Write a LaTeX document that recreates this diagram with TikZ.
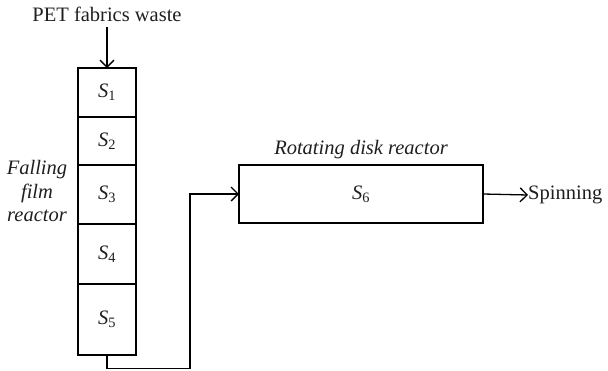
\documentclass[tikz,border=0pt]{standalone}
\usepackage{fontspec}
\setmainfont{Liberation Serif}
\usetikzlibrary{arrows.meta}
\newcommand\Sx[1]{\textit{S}\textsubscript{#1}}
\begin{document}
\begin{tikzpicture}[x=1pt,y=-1pt,
  every node/.style={font=\fontsize{20.5}{24}\selectfont, text=black!88},
  cell/.style={draw, line width=1.3pt, minimum width=58pt, inner sep=0pt, outer sep=0pt},
  arr/.style={draw, line width=1.3pt, -{Straight Barb[length=7pt,width=14pt,line width=1.3pt]}},
  lbl/.style={inner sep=0pt}]
\useasboundingbox (0,0) rectangle (608,370);
\node[lbl] (pet) at (107,14) {PET fabrics waste};
\node[cell, minimum height=49pt] (s1) at (107,92.5) {\Sx{1}};
\node[cell, minimum height=48pt] (s2) at (107,141) {\Sx{2}};
\node[cell, minimum height=59pt] (s3) at (107,194.5) {\Sx{3}};
\node[cell, minimum height=60pt] (s4) at (107,254) {\Sx{4}};
\node[cell, minimum height=71pt] (s5) at (107,319.5) {\Sx{5}};
\node[lbl, align=center, font=\fontsize{20.5}{23.5}\selectfont\itshape] (ff) at (37,191) {Falling\\film\\reactor};
\node[cell, minimum width=244pt, minimum height=58pt] (rd) at (361,194) {\Sx{6}};
\node[lbl, font=\fontsize{20.5}{24}\selectfont\itshape] (rdl) at (361,150) {Rotating disk reactor};
\node[lbl, anchor=west] (sp) at (528,195) {Spinning};
\coordinate (c1) at (190,368.5);
\draw[arr] (pet.south) ++(0,5) -- (s1.north);
\draw[arr] (s5.south) |- (c1) |- (rd.west);
\draw[arr] (rd.east) -- (sp.west);
\end{tikzpicture}
\end{document}
